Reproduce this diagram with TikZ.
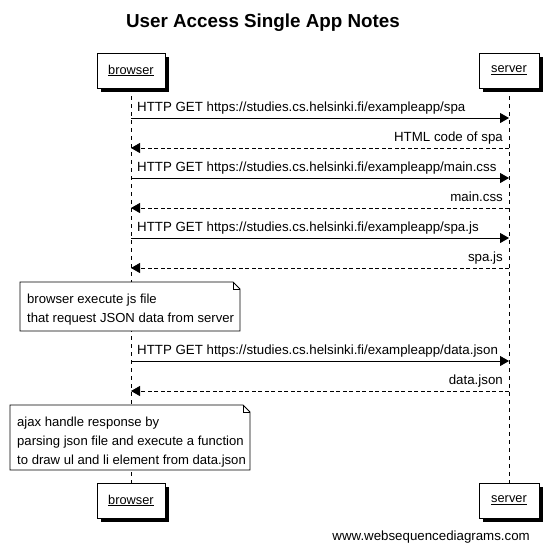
\documentclass[tikz,border=0pt]{standalone}
\usepackage{fontspec}
\setmainfont{Liberation Sans}
\usetikzlibrary{arrows.meta,positioning}
\tikzset{
  lbl/.style={font=\fontsize{13.3}{15}\selectfont, inner sep=0pt},
  actor/.style={draw=black, fill=white, line width=0.8pt, minimum width=68pt, minimum height=35pt, inner sep=0pt, font=\fontsize{12.8}{14}\selectfont},
  shadowbox/.style={fill=black},
  lifeline/.style={line width=0.8pt, dash pattern=on 4pt off 4pt},
  req/.style={line width=0.8pt, -{Triangle[length=9pt,width=10pt]}},
  resp/.style={line width=0.8pt, dash pattern=on 4pt off 2.5pt, -{Triangle[length=9pt,width=10pt]}},
  notetext/.style={font=\fontsize{13.1}{16}\selectfont, anchor=base west, inner sep=0pt},
  notebox/.style={line width=0.8pt, fill=white},
}
\begin{document}
\begin{tikzpicture}[x=1pt,y=-1pt]
\useasboundingbox (0,0) rectangle (553,550);
% title
\node[font=\fontsize{18.8}{20}\selectfont\bfseries] (title) at (263,23) {User Access Single App Notes};
% actor boxes shadows
\fill[shadowbox] (101,57) rectangle (169,92);
\fill[shadowbox] (483,57) rectangle (543,92);
\fill[shadowbox] (101,487) rectangle (169,522);
\fill[shadowbox] (483,487) rectangle (543,522);
\node[actor] (btop) at (131,70.5) {\underline{browser}};
\node[actor, minimum width=60pt] (stop) at (509,70.5) {\underline{server}};
\node[actor] (bbot) at (131,500.5) {\underline{browser}};
\node[actor, minimum width=60pt] (sbot) at (509,500.5) {\underline{server}};
% lifelines
\draw[lifeline] (btop.south) -- (bbot.north);
\draw[lifeline] (stop.south) -- (sbot.north);
% message coordinates
\foreach \i/\y in {1/118,2/148,3/178,4/208,5/238,6/268,7/361,8/391}{
  \coordinate (b\i) at (131,\y);
  \coordinate (s\i) at (509,\y);
}
% messages
\draw[req] (b1) -- (s1);
\node[lbl, anchor=base west] (m1) at (137,111) {HTTP GET https://studies.cs.helsinki.fi/exampleapp/spa};
\draw[resp] (s2) -- (b2);
\node[lbl, anchor=base east] (m2) at (503,141) {HTML code of spa};
\draw[req] (b3) -- (s3);
\node[lbl, anchor=base west] (m3) at (137,171) {HTTP GET https://studies.cs.helsinki.fi/exampleapp/main.css};
\draw[resp] (s4) -- (b4);
\node[lbl, anchor=base east] (m4) at (503,201) {main.css};
\draw[req] (b5) -- (s5);
\node[lbl, anchor=base west] (m5) at (137,231) {HTTP GET https://studies.cs.helsinki.fi/exampleapp/spa.js};
\draw[resp] (s6) -- (b6);
\node[lbl, anchor=base east] (m6) at (503,261) {spa.js};
% note 1
\draw[notebox] (20,282) -- (233,282) -- (240,289) -- (240,331) -- (20,331) -- cycle;
\draw[line width=0.6pt] (233,282) -- (233,289) -- (240,289);
\node[notetext] (n1a) at (27,303) {browser execute js file};
\node[notetext] (n1b) at (27,322) {that request JSON data from server};
% data.json
\draw[req] (b7) -- (s7);
\node[lbl, anchor=base west] (m7) at (137,354) {HTTP GET https://studies.cs.helsinki.fi/exampleapp/data.json};
\draw[resp] (s8) -- (b8);
\node[lbl, anchor=base east] (m8) at (503,384) {data.json};
% note 2
\draw[notebox] (10,405) -- (243,405) -- (250,412) -- (250,470) -- (10,470) -- cycle;
\draw[line width=0.6pt] (243,405) -- (243,412) -- (250,412);
\node[notetext] (n2a) at (17,426) {ajax handle response by};
\node[notetext] (n2b) at (17,445) {parsing json file and execute a function};
\node[notetext] (n2c) at (17,464) {to draw ul and li element from data.json};
% footer
\node[font=\fontsize{13.3}{15}\selectfont, anchor=base east, inner sep=0pt] (footer) at (530,540) {www.websequencediagrams.com};
\end{tikzpicture}
\end{document}
